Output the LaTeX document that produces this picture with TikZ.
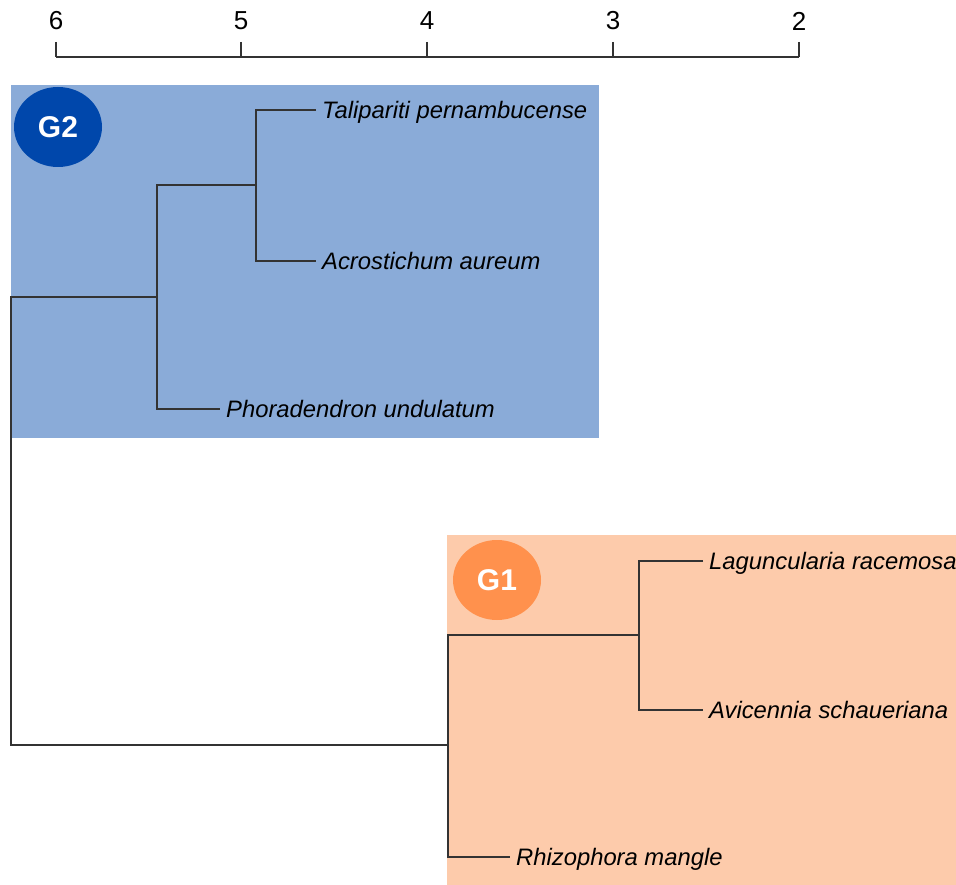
\documentclass[tikz,border=0pt]{standalone}
\usepackage{fontspec}
\setmainfont{Liberation Sans}
\usetikzlibrary{positioning,shapes.geometric}
\definecolor{dgblue}{RGB}{138,171,216}
\definecolor{dgbluedark}{RGB}{0,71,171}
\definecolor{dgorange}{RGB}{253,203,171}
\definecolor{dgorangedark}{RGB}{255,145,77}
\definecolor{dgline}{RGB}{51,51,51}
\tikzset{
  dgleaf/.style={anchor=west, inner xsep=6pt, inner ysep=0pt, text height=17pt,
    text depth=0pt, font=\fontsize{23.8}{28}\selectfont\itshape},
  dgedge/.style={draw=dgline, line width=1.3pt},
  dgaxis/.style={draw=dgline, line width=1.8pt},
  dgtick/.style={inner sep=0pt, font=\fontsize{26}{30}\selectfont},
  dgbadge/.style={ellipse, minimum width=88pt, minimum height=80pt, inner sep=0pt,
    text=white, font=\fontsize{30}{34}\selectfont\bfseries}
}

\begin{document}
\begin{tikzpicture}[x=1pt, y=-1pt]
  \useasboundingbox (0,0) rectangle (956,885);
  \fill[dgblue] (11,85) rectangle (599,438);
  \fill[dgorange] (447,535) rectangle (956,885);
  \node[dgbadge, fill=dgbluedark] (bG2) at (58,127) {G2};
  \node[dgbadge, fill=dgorangedark] (bG1) at (497,580) {G1};
  \foreach \v/\x in {6/56,5/241,4/427,3/613,2/799} {
    \node[dgtick] (t\v) at (\x,21) {\v};
    \draw[dgaxis] (\x,42) -- (\x,57);
  }
  \draw[dgaxis] (56,57) -- (799,57);
  \node[dgleaf] (tal) at (316,110) {Talipariti pernambucense};
  \node[dgleaf] (acr) at (316,261) {Acrostichum aureum};
  \node[dgleaf] (pho) at (220,409) {Phoradendron undulatum};
  \node[dgleaf] (lag) at (703,561) {Laguncularia racemosa};
  \node[dgleaf] (avi) at (703,710) {Avicennia schaueriana};
  \node[dgleaf] (rhi) at (510,857) {Rhizophora mangle};
  \coordinate (nTA) at (256,185);
  \coordinate (nG2) at (157,297);
  \coordinate (nLA) at (639,635);
  \coordinate (nG1) at (448,745);
  \coordinate (nRoot) at (11,521);
  \draw[dgedge] (tal.west) -| (nTA) |- (acr.west);
  \draw[dgedge] (nTA) -| (nG2) |- (pho.west);
  \draw[dgedge] (lag.west) -| (nLA) |- (avi.west);
  \draw[dgedge] (nLA) -| (nG1) |- (rhi.west);
  \draw[dgedge] (nG2) -| (nRoot) |- (nG1);
\end{tikzpicture}
\end{document}
